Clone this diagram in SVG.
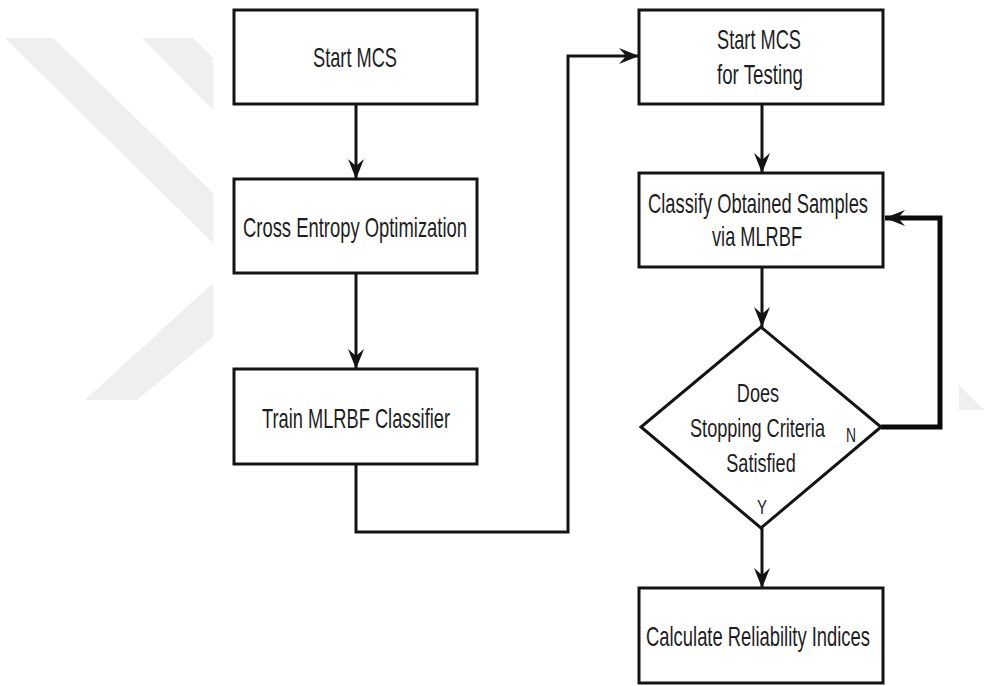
<svg xmlns="http://www.w3.org/2000/svg" width="987" height="686" viewBox="0 0 987 686">
  <style>
    .box { fill: #ffffff; stroke: #141414; stroke-width: 3; }
    .lbl { font-family: "Liberation Sans", Arial, sans-serif; font-size: 28px; fill: #1e1e1e; text-anchor: middle; }
    .dlbl { font-family: "Liberation Sans", Arial, sans-serif; font-size: 25px; fill: #1e1e1e; text-anchor: middle; }
    .yn { font-family: "Liberation Sans", Arial, sans-serif; font-size: 21px; fill: #1e1e1e; text-anchor: middle; }
    .wire { fill: none; stroke: #141414; stroke-width: 3; }
    .wire-bold { fill: none; stroke: #0a0a0a; stroke-width: 5; }
    .wm { fill: #efefef; }
  </style>
  <defs>
    <marker id="arrow" viewBox="-20 -9 22 18" refX="0" refY="0" markerWidth="22" markerHeight="18" markerUnits="userSpaceOnUse" orient="auto">
      <path d="M0,0 L-20,-8 L-13,0 L-20,8 Z" fill="#141414"/>
    </marker>
  </defs>

  <rect width="987" height="686" fill="#ffffff"/>

  <!-- faint background emblem -->
  <g id="emblem">
    <polygon class="wm" points="5,38 53,38 213,193 213,243"/>
    <polygon class="wm" points="142,38 193,38 213,58 213,110"/>
    <polygon class="wm" points="85,400 137,400 213,337 213,283"/>
    <polygon class="wm" points="959,385 984,410 959,410"/>
  </g>

  <!-- connectors -->
  <g id="connectors">
    <line class="wire" x1="356" y1="104" x2="356" y2="179" marker-end="url(#arrow)"/>
    <line class="wire" x1="356" y1="273" x2="356" y2="369" marker-end="url(#arrow)"/>
    <polyline class="wire" points="356,464 356,532 568,532 568,56 639,56" marker-end="url(#arrow)"/>
    <line class="wire" x1="762" y1="104" x2="762" y2="173" marker-end="url(#arrow)"/>
    <line class="wire" x1="762" y1="267" x2="762" y2="327" marker-end="url(#arrow)"/>
    <line class="wire" x1="762" y1="528" x2="762" y2="588" marker-end="url(#arrow)"/>
    <polyline class="wire-bold" points="881,427 940,427 940,218 885,218" marker-end="url(#arrow)"/>
  </g>

  <g id="start-mcs">
    <rect class="box" x="234" y="10" width="243" height="94"/>
    <text class="lbl" x="355" y="67" textLength="84" lengthAdjust="spacingAndGlyphs">Start MCS</text>
  </g>

  <g id="cross-entropy">
    <rect class="box" x="234" y="179" width="243" height="94"/>
    <text class="lbl" x="355" y="237" textLength="224" lengthAdjust="spacingAndGlyphs">Cross Entropy Optimization</text>
  </g>

  <g id="train-mlrbf">
    <rect class="box" x="234" y="369" width="243" height="95"/>
    <text class="lbl" x="356" y="428" textLength="188" lengthAdjust="spacingAndGlyphs">Train MLRBF Classifier</text>
  </g>

  <g id="start-mcs-testing">
    <rect class="box" x="639" y="10" width="244" height="94"/>
    <text class="lbl" x="759" y="49" textLength="84" lengthAdjust="spacingAndGlyphs">Start MCS</text>
    <text class="lbl" x="760" y="84" textLength="86" lengthAdjust="spacingAndGlyphs">for Testing</text>
  </g>

  <g id="classify">
    <rect class="box" x="639" y="173" width="244" height="94"/>
    <text class="lbl" x="758" y="213" textLength="220" lengthAdjust="spacingAndGlyphs">Classify Obtained Samples</text>
    <text class="lbl" x="757" y="246" textLength="90" lengthAdjust="spacingAndGlyphs">via MLRBF</text>
  </g>

  <g id="stopping-decision">
    <polygon class="box" points="761,327 881,427 761,528 641,427"/>
    <!-- condensed question text -->
    <g transform="translate(758,0) scale(0.725,1)">
      <text class="dlbl" x="0" y="402">Does</text>
      <text class="dlbl" x="-0.7" y="437">Stopping Criteria</text>
      <text class="dlbl" x="4.1" y="472">Satisfied</text>
    </g>
    <text class="yn" x="851" y="442" textLength="10" lengthAdjust="spacingAndGlyphs">N</text>
    <text class="yn" x="762" y="514" textLength="10" lengthAdjust="spacingAndGlyphs">Y</text>
  </g>

  <g id="reliability">
    <rect class="box" x="639" y="588" width="244" height="95"/>
    <text class="lbl" x="758" y="646" textLength="224" lengthAdjust="spacingAndGlyphs">Calculate Reliability Indices</text>
  </g>
</svg>
